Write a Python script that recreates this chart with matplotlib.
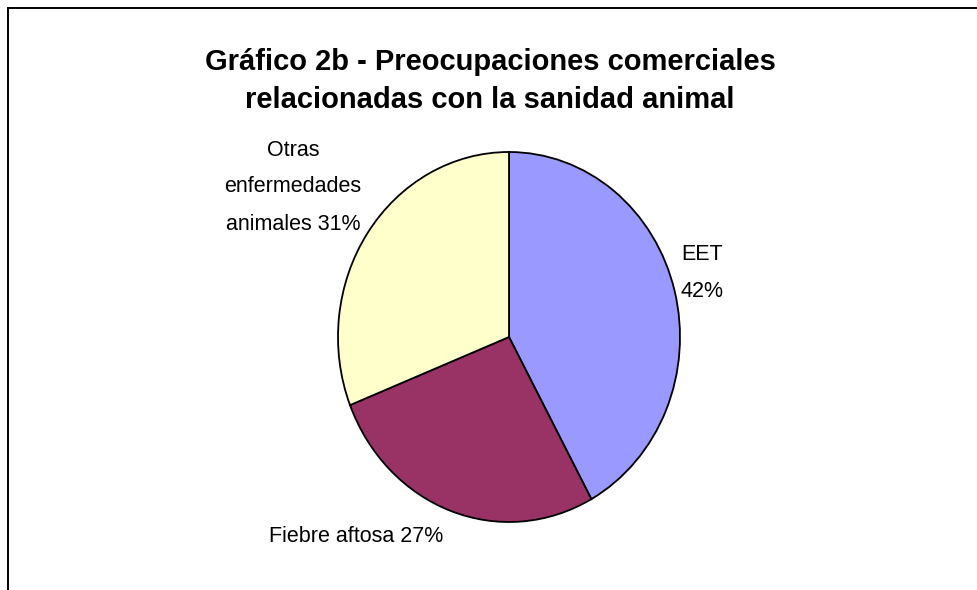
import matplotlib
matplotlib.use("Agg")
import matplotlib.pyplot as plt
from matplotlib.lines import Line2D

categories = ["EET", "Fiebre aftosa", "Otras enfermedades animales"]
values = [42, 27, 31]
labels = ["EET\n42%", "Fiebre aftosa 27%", "Otras\nenfermedades\nanimales 31%"]
colors = ["#9999FF", "#993366", "#FFFFCC"]
title = "Gráfico 2b - Preocupaciones comerciales\nrelacionadas con la sanidad animal"

W, H = 977, 590
fig = plt.figure(figsize=(W / 100, H / 100), dpi=100)
fig.patch.set_facecolor("white")

def fx(px):
    return px / W

def fy(py):
    return 1 - py / H

# pie axes: ellipse bounds x 338..680, y 152..522
ax = fig.add_axes([fx(338), fy(522), (680 - 338) / W, (522 - 152) / H])
ax.pie(values, colors=colors, startangle=90, counterclock=False,
       wedgeprops=dict(edgecolor="black", linewidth=1.3))
ax.set_aspect("auto")
ax.set_xlim(-1, 1)
ax.set_ylim(-1, 1)
ax.axis("off")

font = "Liberation Sans"
fig.text(fx(490), fy(81), title, ha="center", va="center", fontsize=21,
         fontweight="bold", family=font, linespacing=1.45)

fig.text(fx(702), fy(273), labels[0], ha="center", va="center", fontsize=15.5,
         family=font, linespacing=2.0)
fig.text(fx(356), fy(536), labels[1], ha="center", va="center", fontsize=15.5,
         family=font)
fig.text(fx(293), fy(187), labels[2], ha="center", va="center", fontsize=15.5,
         family=font, linespacing=2.0)

# chart frame (cropped: only top and left sides visible)
fig.add_artist(Line2D([fx(8), fx(8)], [fy(8), 0], transform=fig.transFigure,
                      color="black", linewidth=1.4))
fig.add_artist(Line2D([fx(8), 1], [fy(8), fy(8)], transform=fig.transFigure,
                      color="black", linewidth=1.4))

fig.savefig("out.png", dpi=100, facecolor="white")
